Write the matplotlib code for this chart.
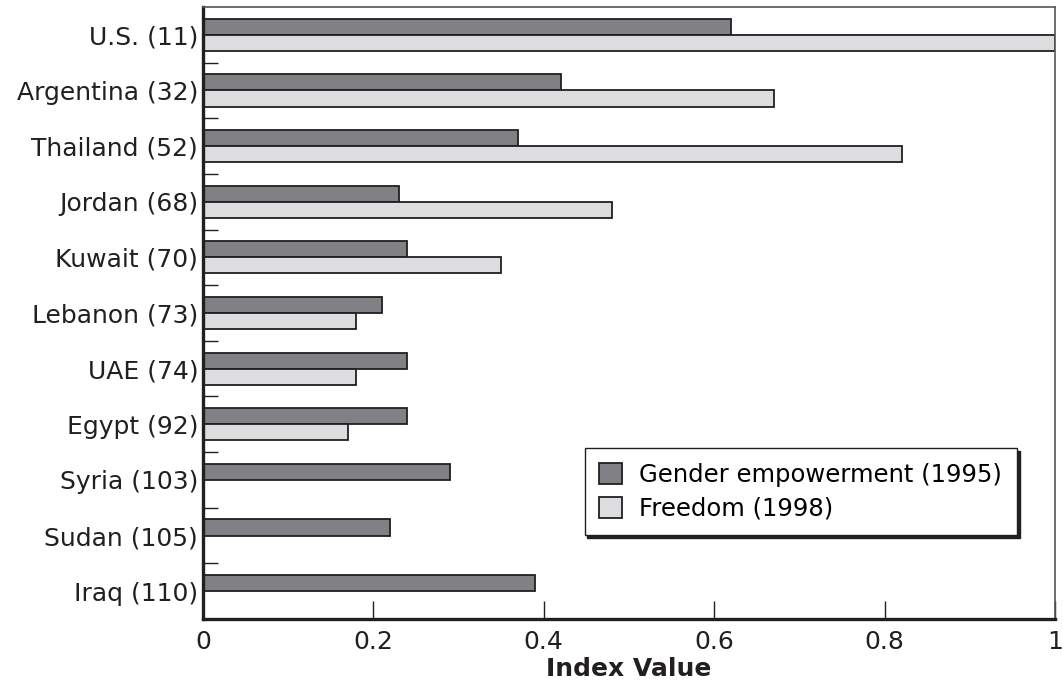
import matplotlib
matplotlib.use("Agg")
import matplotlib.pyplot as plt
import numpy as np

countries = ["U.S. (11)", "Argentina (32)", "Thailand (52)", "Jordan (68)", "Kuwait (70)",
             "Lebanon (73)", "UAE (74)", "Egypt (92)", "Syria (103)", "Sudan (105)", "Iraq (110)"]
gender = [0.62, 0.42, 0.37, 0.23, 0.24, 0.21, 0.24, 0.24, 0.29, 0.22, 0.39]
freedom = [1.0, 0.67, 0.82, 0.48, 0.35, 0.18, 0.18, 0.17, 0, 0, 0]
xticks = [0, 0.2, 0.4, 0.6, 0.8, 1]
xtick_labels = ["0", "0.2", "0.4", "0.6", "0.8", "1"]

plt.rcParams['font.family'] = ['DejaVu Sans']

DARK = "#231f20"
FS = 18
fig = plt.figure(figsize=(10.63, 6.85), dpi=100)
ax = fig.add_axes([203/1063, 1-619/685, (1055-203)/1063, (619-7)/685])

y = np.arange(len(countries))
h = 0.29
ax.barh(y - h/2, gender, height=h, color="#808184", edgecolor=DARK, linewidth=1.3,
        label="Gender empowerment (1995)", zorder=2)
mask = np.array([v > 0 for v in freedom])
ax.barh(y[mask] + h/2, np.array(freedom)[mask], height=h, color="#dcdddf", edgecolor=DARK,
        linewidth=1.3, label="Freedom (1998)", zorder=2)

ax.set_xlim(0, 1)
ax.set_ylim(len(countries) - 0.5, -0.5)
ax.set_yticks(y)
ax.set_yticklabels(countries, fontsize=FS, color=DARK)
ax.set_yticks(np.arange(len(countries) - 1) + 0.5, minor=True)
ax.tick_params(axis='y', which='major', length=0, pad=3.5)
ax.tick_params(axis='y', which='minor', direction='in', length=11, width=1, color=DARK)
ax.set_xticks(xticks)
ax.set_xticklabels(xtick_labels, fontsize=FS, color=DARK)
ax.tick_params(axis='x', direction='in', length=13, width=1, color=DARK, pad=8)
ax.set_xlabel("Index Value", fontsize=FS, fontweight='bold', color=DARK, labelpad=2)

for s in ['left', 'bottom']:
    ax.spines[s].set_linewidth(2.4)
    ax.spines[s].set_color(DARK)
for s in ['top', 'right']:
    ax.spines[s].set_linewidth(1.2)
    ax.spines[s].set_color("#555555")

leg = ax.legend(loc='lower left', bbox_to_anchor=(0.448, 0.137), fontsize=17.5,
                frameon=True, fancybox=False, shadow={'color': DARK, 'alpha': 1},
                handlelength=0.95, handleheight=0.95, handletextpad=0.7,
                borderpad=0.6, labelspacing=0.4, borderaxespad=0)
leg.get_frame().set_edgecolor(DARK)
leg.get_frame().set_linewidth(1.0)

fig.savefig("out.png", dpi=100)
